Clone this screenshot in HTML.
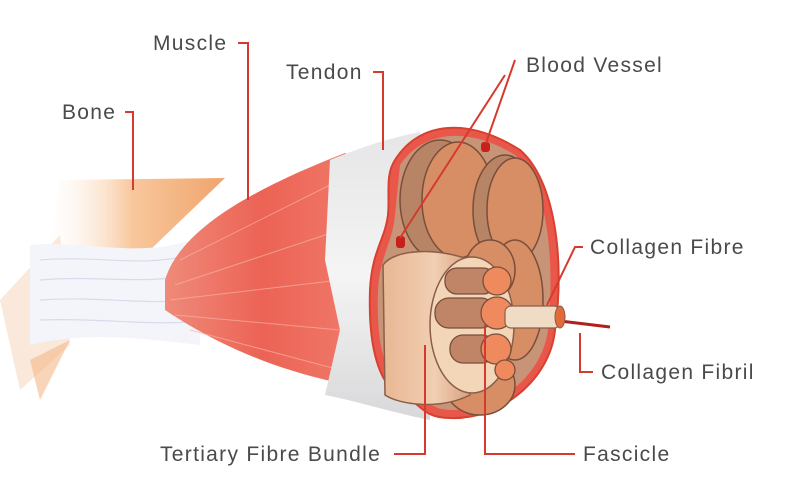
<!DOCTYPE html>
<html><head><style>
html,body{margin:0;padding:0;background:#fff;}
svg{display:block;}
text{font-family:"Liberation Sans",sans-serif;font-size:21px;letter-spacing:1.3px;fill:#4a4a4a;}
</style></head><body>
<svg width="800" height="500" viewBox="0 0 800 500">
<defs>
<linearGradient id="bone" x1="0" y1="0" x2="1" y2="0">
<stop offset="0" stop-color="#fff" stop-opacity="0"/><stop offset="0.5" stop-color="#f8c79c"/><stop offset="1" stop-color="#f0a46c"/></linearGradient>
<linearGradient id="mus" x1="0" y1="0" x2="1" y2="0">
<stop offset="0" stop-color="#ef8a7a"/><stop offset="0.5" stop-color="#ec6355"/><stop offset="1" stop-color="#f07a6a"/></linearGradient>
<linearGradient id="ten" x1="0" y1="0" x2="0" y2="1">
<stop offset="0" stop-color="#e6e6e8"/><stop offset="0.5" stop-color="#f4f4f4"/><stop offset="1" stop-color="#d8d8da"/></linearGradient>
<linearGradient id="tert" x1="0" y1="0" x2="1" y2="0">
<stop offset="0" stop-color="#e9b794"/><stop offset="0.6" stop-color="#f1cfb2"/><stop offset="1" stop-color="#d8a07e"/></linearGradient>
</defs>
<polygon points="60,180 225,178 150,250 40,300" fill="url(#bone)"/>
<polygon points="20,390 70,345 60,235 0,300" fill="#f6d3b5" opacity="0.5"/>
<polygon points="30,360 70,340 40,400" fill="#f3b88a" opacity="0.6"/>
<path d="M30,245 C90,240 140,260 200,237 L200,345 C150,340 90,330 30,345 Z" fill="#f3f5fa"/>
<g stroke="#cfd6e6" stroke-width="1.2" fill="none" opacity="0.8">
<path d="M40,260 C100,255 140,268 190,255"/><path d="M40,280 C100,275 140,285 190,275"/>
<path d="M40,300 C100,296 140,305 190,300"/><path d="M40,320 C100,318 140,325 190,322"/>
</g>
<path d="M165,280 C180,230 250,190 345,153 L360,165 L350,385 C270,370 210,340 165,310 Z" fill="url(#mus)"/>
<g stroke="#f7b1a6" stroke-width="1" opacity="0.7">
<line x1="180" y1="260" x2="340" y2="180"/><line x1="175" y1="285" x2="340" y2="230"/>
<line x1="170" y1="300" x2="340" y2="280"/><line x1="175" y1="315" x2="340" y2="330"/>
<line x1="190" y1="330" x2="340" y2="370"/>
</g>
<path d="M330,160 C350,152 380,140 420,132 L430,420 C390,412 360,402 325,395 L340,330 L325,260 Z" fill="url(#ten)"/>
<path d="M395,160 C420,120 470,118 520,150 C555,180 565,260 555,330 C550,380 500,420 450,418 C420,418 420,400 400,395 C380,385 368,350 370,290 C372,250 385,240 388,215 C390,195 385,175 395,160 Z" fill="#e9574a" stroke="#d8402f" stroke-width="2"/>
<path d="M400,165 C425,128 472,128 515,155 C548,182 555,260 548,330 C542,375 500,410 452,410 C425,410 425,392 405,388 C385,378 376,345 378,290 C380,255 392,245 395,215 Z" fill="#c89478"/>
<g stroke="#7a4e3a" stroke-width="1.5">
<ellipse cx="440" cy="200" rx="40" ry="60" fill="#b88466"/>
<ellipse cx="458" cy="200" rx="36" ry="58" fill="#d88e64"/>
<ellipse cx="505" cy="210" rx="32" ry="55" fill="#b88466"/>
<ellipse cx="515" cy="210" rx="28" ry="52" fill="#d88e64"/>
<ellipse cx="515" cy="300" rx="28" ry="60" fill="#d88e64"/>
<ellipse cx="490" cy="270" rx="25" ry="30" fill="#d88e64"/>
<ellipse cx="480" cy="385" rx="35" ry="30" fill="#d88e64"/>
</g>
<path d="M383,265 C395,248 440,248 470,260 L470,395 C440,410 400,405 385,395 Z" fill="url(#tert)" stroke="#8a5e48" stroke-width="1.5"/>
<ellipse cx="472" cy="325" rx="42" ry="68" fill="#f3d6b8" stroke="#8a5e48" stroke-width="1.5"/>
<g stroke="#7a4e3a" stroke-width="1.3">
<rect x="445" y="268" width="50" height="26" rx="12" fill="#c08466"/><circle cx="497" cy="281" r="14" fill="#ee8a5e"/>
<rect x="435" y="298" width="60" height="30" rx="14" fill="#c08466"/><circle cx="497" cy="313" r="16" fill="#ee8a5e"/>
<rect x="450" y="335" width="45" height="28" rx="13" fill="#c08466"/><circle cx="496" cy="349" r="15" fill="#ee8a5e"/>
<circle cx="505" cy="370" r="10" fill="#ee8a5e"/>
</g>
<line x1="560" y1="321" x2="610" y2="327" stroke="#b0201c" stroke-width="3"/>
<rect x="505" y="306" width="55" height="22" rx="6" fill="#f0dcc4" stroke="#8a5e48" stroke-width="1.2"/>
<ellipse cx="560" cy="317" rx="5" ry="11" fill="#e26b3c" stroke="#8a5e48"/>
<rect x="481" y="142" width="9" height="10" rx="3" fill="#c8201c"/>
<rect x="396" y="236" width="9" height="12" rx="3" fill="#c8201c"/>
<g stroke="#d63a2e" stroke-width="2" fill="none">
<polyline points="125,112 133,112 133,190"/>
<polyline points="238,43 248,43 248,200"/>
<polyline points="373,72 383,72 383,150"/>
<line x1="515" y1="60" x2="486" y2="143"/>
<line x1="505" y1="75" x2="400" y2="238"/>
<polyline points="583,247 575,247 547,305"/>
<polyline points="593,372 580,372 580,333"/>
<polyline points="394,454 425,454 425,345"/>
<polyline points="575,454 485,454 485,325"/>
</g>
<text x="62" y="119">Bone</text>
<text x="153" y="50">Muscle</text>
<text x="286" y="79">Tendon</text>
<text x="526" y="72">Blood Vessel</text>
<text x="590" y="254">Collagen Fibre</text>
<text x="601" y="379">Collagen Fibril</text>
<text x="160" y="461">Tertiary Fibre Bundle</text>
<text x="583" y="461">Fascicle</text>
</svg>
</body></html>
